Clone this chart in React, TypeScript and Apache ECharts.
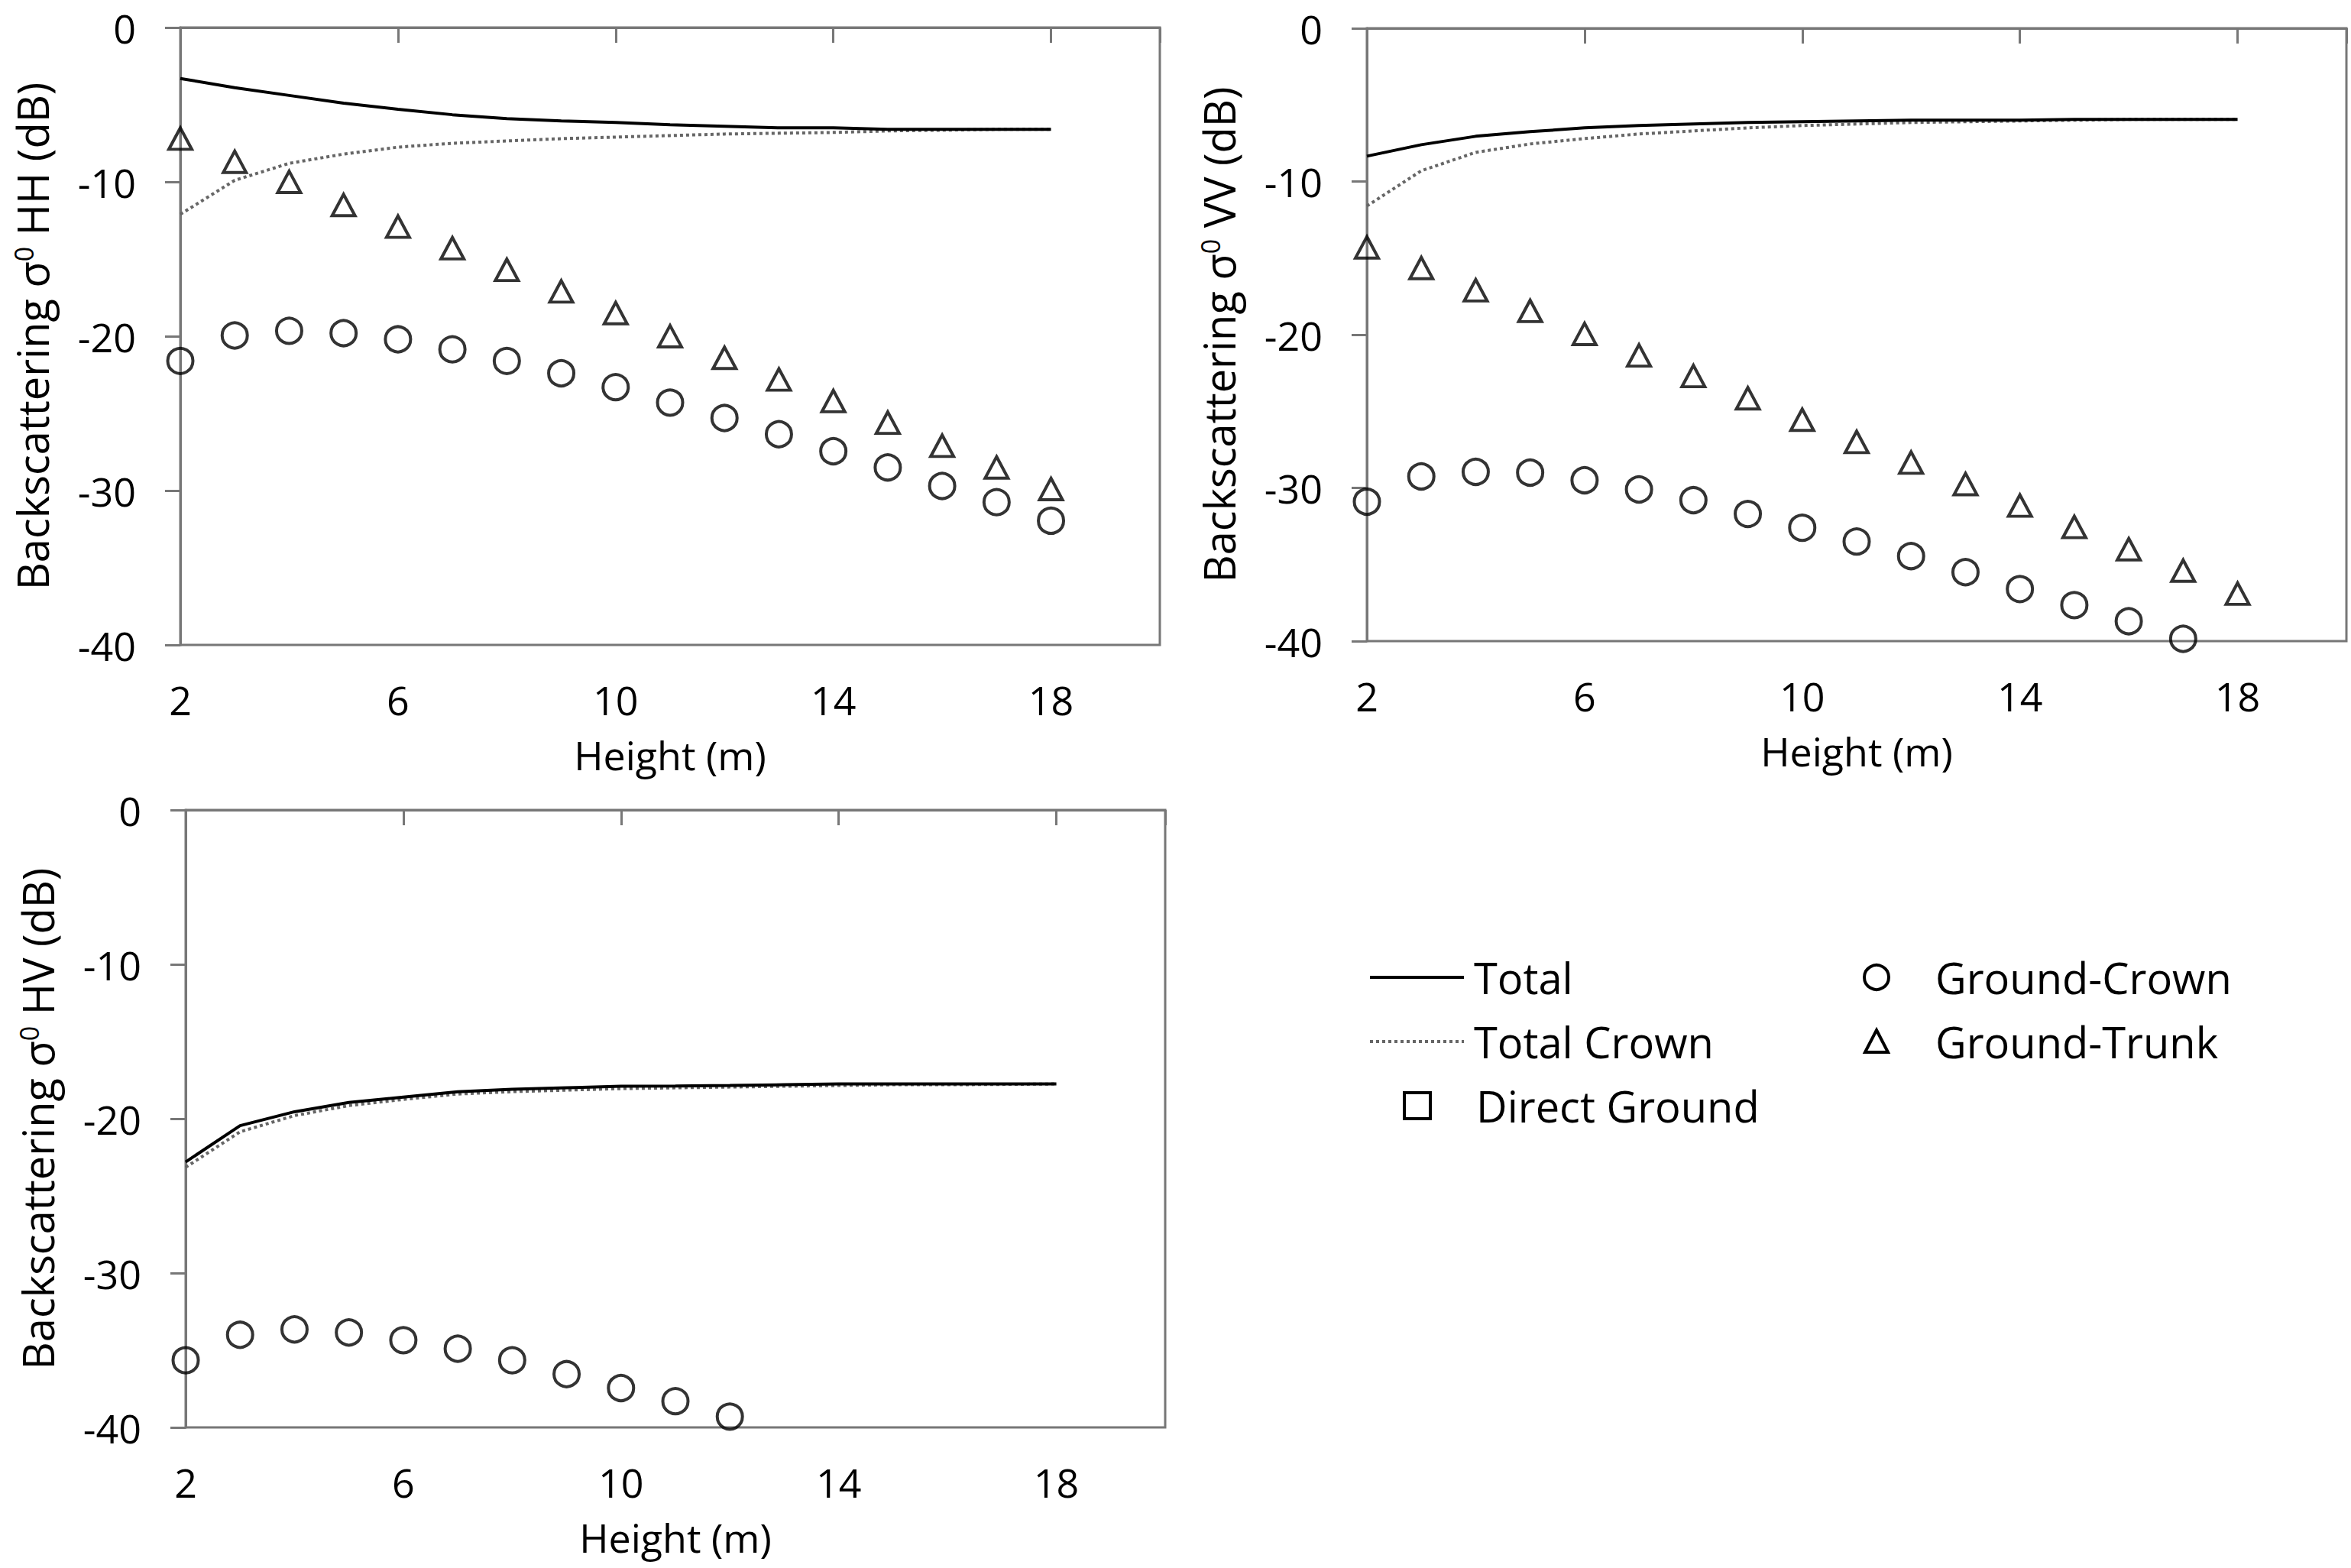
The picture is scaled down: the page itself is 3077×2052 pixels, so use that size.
import { useEffect, useRef } from "react";
import * as echarts from "echarts";

// heights (m) on the x axis
const heights = [2, 3, 4, 5, 6, 7, 8, 9, 10, 11, 12, 13, 14, 15, 16, 17, 18];

// HH polarisation (dB)
const totalHH = [-3.3, -3.9, -4.4, -4.9, -5.3, -5.65, -5.9, -6.05, -6.15, -6.3, -6.4, -6.5, -6.5, -6.6, -6.6, -6.6, -6.6];
const crownHH = [-12.1, -9.9, -8.8, -8.2, -7.75, -7.5, -7.35, -7.2, -7.1, -7.0, -6.9, -6.85, -6.8, -6.7, -6.65, -6.6, -6.6];
const groundCrownHH = [-21.6, -19.95, -19.65, -19.8, -20.2, -20.85, -21.6, -22.4, -23.3, -24.3, -25.3, -26.35, -27.45, -28.5, -29.7, -30.75, -31.95];
const groundTrunkHH = [-7.2, -8.7, -10.0, -11.5, -12.9, -14.3, -15.7, -17.1, -18.5, -20.0, -21.4, -22.8, -24.2, -25.6, -27.1, -28.5, -29.9];

// VV polarisation (dB)
const totalVV = [-8.35, -7.6, -7.05, -6.75, -6.5, -6.35, -6.25, -6.15, -6.1, -6.05, -6.0, -6.0, -6.0, -5.95, -5.95, -5.95, -5.95];
const crownVV = [-11.6, -9.3, -8.1, -7.55, -7.2, -6.9, -6.7, -6.5, -6.35, -6.25, -6.15, -6.1, -6.05, -6.0, -5.95, -5.95, -5.95];
const groundCrownVV = [-30.9, -29.25, -28.95, -29.0, -29.5, -30.1, -30.8, -31.7, -32.6, -33.5, -34.45, -35.5, -36.6, -37.65, -38.7, -39.85];
const groundTrunkVV = [-14.3, -15.65, -17.1, -18.45, -19.95, -21.35, -22.7, -24.15, -25.55, -27.0, -28.35, -29.75, -31.15, -32.55, -34.0, -35.4, -36.9];

// HV polarisation (dB)
const totalHV = [-22.8, -20.45, -19.55, -18.95, -18.6, -18.25, -18.1, -18.0, -17.9, -17.88, -17.85, -17.8, -17.75, -17.75, -17.75, -17.75, -17.75];
const crownHV = [-23.15, -20.85, -19.8, -19.15, -18.75, -18.4, -18.25, -18.15, -18.05, -18.0, -17.95, -17.9, -17.85, -17.8, -17.8, -17.78, -17.75];
const groundCrownHV = [-35.65, -34.0, -33.65, -33.85, -34.35, -34.9, -35.65, -36.55, -37.45, -38.3, -39.3];
const groundTrunkHV: number[] = []; // below -40 dB, not in view

// direct ground stays below the -40 dB floor in all panels
const directGround: number[] = [];

const xMin = 2;
const xMax = 20;
const xStep = 4;
const yMin = -40;
const yMax = 0;
const yStep = 10;

const FONT = '"Open Sans", sans-serif';
const AXIS_COLOR = "#777";

const pairs = (vals: number[]) => vals.map((v, i) => [heights[i], v]);

const panels = [
  { pol: "HH", total: totalHH, crown: crownHH, gc: groundCrownHH, gt: groundTrunkHH, grid: { left: 236, top: 36, width: 1282, height: 808 } },
  { pol: "VV", total: totalVV, crown: crownVV, gc: groundCrownVV, gt: groundTrunkVV, grid: { left: 1789, top: 37, width: 1282, height: 802 } },
  { pol: "HV", total: totalHV, crown: crownHV, gc: groundCrownHV, gt: groundTrunkHV, grid: { left: 243, top: 1060, width: 1282, height: 808 } },
];

const tickText = { fontFamily: FONT, fontSize: 52, color: "#000" };

const App = () => {
  const chartRef = useRef<HTMLDivElement>(null);

  useEffect(() => {
    if (!chartRef.current) return;
    const chart = echarts.init(chartRef.current, null, { renderer: "svg" });

    const grids: any[] = [];
    const xAxes: any[] = [];
    const yAxes: any[] = [];
    const series: any[] = [];

    panels.forEach((p, g) => {
      grids.push({ ...p.grid, show: true, borderColor: AXIS_COLOR, borderWidth: 3, backgroundColor: "transparent" });

      // bottom axis: labels + title
      xAxes.push({
        type: "value", gridIndex: g, position: "bottom", min: xMin, max: xMax, interval: xStep,
        axisLine: { show: false, onZero: false },
        axisTick: { show: false },
        splitLine: { show: false },
        axisLabel: { ...tickText, margin: 45, formatter: (v: number) => (v === xMax ? "" : String(v)) },
        name: "Height (m)", nameLocation: "middle", nameGap: 117,
        nameTextStyle: tickText,
      });
      // top axis: the value axis crosses at 0 dB, ticks point inward
      xAxes.push({
        type: "value", gridIndex: g, position: "top", min: xMin, max: xMax, interval: xStep,
        axisLine: { show: true, onZero: false, lineStyle: { color: AXIS_COLOR, width: 3 } },
        axisTick: { show: true, inside: true, length: 20, lineStyle: { color: AXIS_COLOR, width: 3 } },
        axisLabel: { show: false },
        splitLine: { show: false },
      });
      yAxes.push({
        type: "value", gridIndex: g, min: yMin, max: yMax, interval: yStep,
        axisLine: { show: true, onZero: false, lineStyle: { color: AXIS_COLOR, width: 3 } },
        axisTick: { show: true, inside: false, length: 20, lineStyle: { color: AXIS_COLOR, width: 3 } },
        splitLine: { show: false },
        axisLabel: { ...tickText, margin: 58 },
        name: `Backscattering σ{sup|0} ${p.pol} (dB)`, nameLocation: "middle", nameGap: 166,
        nameTextStyle: {
          fontFamily: FONT, fontSize: 56, color: "#000",
          rich: { sup: { fontFamily: FONT, fontSize: 34, color: "#000", verticalAlign: "top", lineHeight: 56 } },
        },
      });

      const xi = g * 2;
      series.push(
        {
          name: "Total", type: "line", xAxisIndex: xi, yAxisIndex: g, data: pairs(p.total),
          symbol: "none", lineStyle: { color: "#000", width: 4 }, itemStyle: { color: "#000" }, z: 3,
        },
        {
          name: "Total Crown", type: "line", xAxisIndex: xi, yAxisIndex: g, data: pairs(p.crown),
          symbol: "none", lineStyle: { color: "#666", width: 4, type: [4, 4] }, itemStyle: { color: "#666" }, z: 2,
        },
        {
          name: "Ground-Crown", type: "scatter", xAxisIndex: xi, yAxisIndex: g, data: pairs(p.gc),
          symbol: "circle", symbolSize: 33,
          itemStyle: { color: "rgba(255,255,255,0)", borderColor: "#000", borderWidth: 4 },
        },
        {
          name: "Ground-Trunk", type: "scatter", xAxisIndex: xi, yAxisIndex: g, data: pairs(p.gt),
          symbol: "triangle", symbolSize: [30, 28],
          itemStyle: { color: "rgba(255,255,255,0)", borderColor: "#000", borderWidth: 4 },
        },
        {
          name: "Direct Ground", type: "scatter", xAxisIndex: xi, yAxisIndex: g, data: pairs(directGround),
          symbol: "rect", symbolSize: 33,
          itemStyle: { color: "rgba(255,255,255,0)", borderColor: "#000", borderWidth: 4 },
        }
      );
    });

    const legendText = (text: string, x: number, y: number) => ({
      type: "text", x, y,
      style: { text, fontFamily: FONT, fontSize: 56, fill: "#000", verticalAlign: "middle", align: "left" },
    });
    const r1 = 1279;
    const r2 = 1363;
    const r3 = 1447;
    const c2 = 2456;

    chart.setOption({
      animation: false,
      backgroundColor: "#fff",
      grid: grids,
      xAxis: xAxes,
      yAxis: yAxes,
      series,
      graphic: [
        { type: "line", shape: { x1: 1793, y1: r1, x2: 1916, y2: r1 }, style: { stroke: "#000", lineWidth: 4 } },
        legendText("Total", 1929, r1),
        { type: "line", shape: { x1: 1793, y1: r2, x2: 1916, y2: r2 }, style: { stroke: "#666", lineWidth: 4, lineDash: [4, 4] } },
        legendText("Total Crown", 1929, r2),
        { type: "rect", shape: { x: 1855 - 17, y: r3 - 17, width: 34, height: 34 }, style: { fill: "#fff", stroke: "#000", lineWidth: 4 } },
        legendText("Direct Ground", 1932, r3),
        { type: "circle", shape: { cx: c2, cy: r1, r: 16 }, style: { fill: "#fff", stroke: "#000", lineWidth: 4 } },
        legendText("Ground-Crown", 2533, r1),
        { type: "polygon", shape: { points: [[c2, r2 - 15], [c2 + 15, r2 + 14], [c2 - 15, r2 + 14]] }, style: { fill: "#fff", stroke: "#000", lineWidth: 4 } },
        legendText("Ground-Trunk", 2533, r2),
      ],
    });

    return () => {
      chart.dispose();
    };
  }, []);

  return (
    <div
      ref={chartRef}
      style={{ position: "fixed", left: 0, top: 0, width: "3077px", height: "2052px", background: "#fff" }}
    ></div>
  );
};

export default App;
